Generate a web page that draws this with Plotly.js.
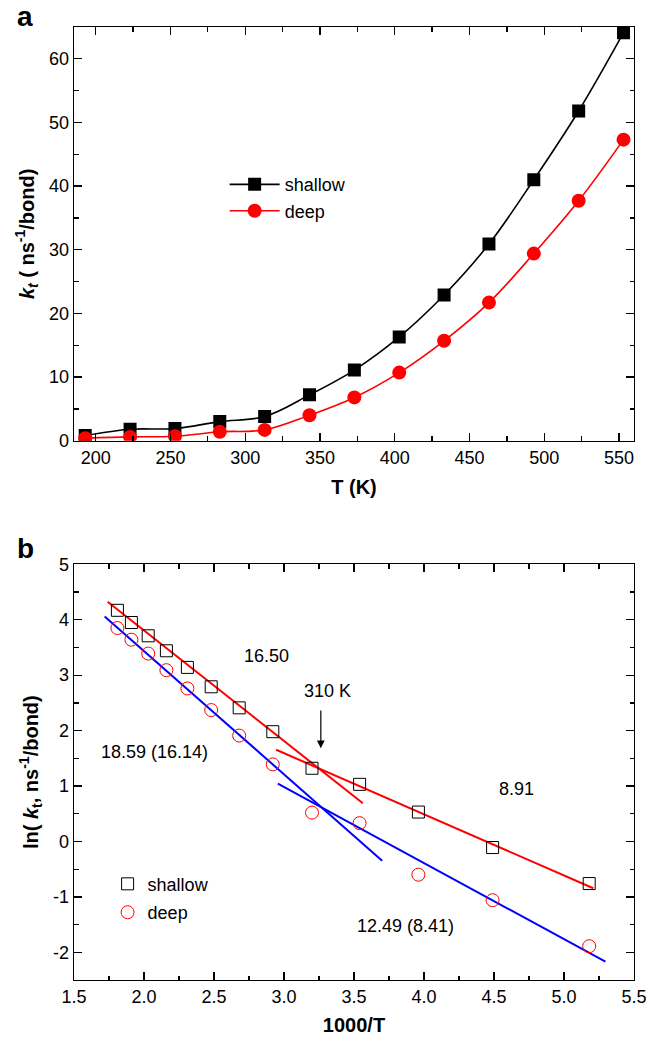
<!DOCTYPE html>
<html>
<head>
<meta charset="utf-8">
<script src="https://cdn.plot.ly/plotly-3.0.1.min.js"></script>
<style>html,body{margin:0;padding:0;background:#fff;}#chart{width:658px;height:1037px;}</style>
</head>
<body>
<div id="chart"></div>
<script>
// Panel a: rate constant vs temperature
const tempK = [193, 223, 253, 283, 313, 343, 373, 403, 433, 463, 493, 523, 553];
const ktShallow = [0.8, 1.8, 1.9, 3.0, 3.8, 7.2, 11.1, 16.3, 22.9, 30.9, 41.0, 51.8, 64.1];
const ktDeep = [0.4, 0.6, 0.7, 1.4, 1.7, 4.0, 6.8, 10.7, 15.7, 21.7, 29.4, 37.7, 47.3];

// Panel b: Arrhenius plot
const invT = [1.81, 1.91, 2.03, 2.16, 2.31, 2.48, 2.68, 2.92, 3.20, 3.54, 3.96, 4.49, 5.18];
const lnShallow = [4.17, 3.95, 3.71, 3.44, 3.14, 2.79, 2.41, 1.98, 1.32, 1.03, 0.53, -0.11, -0.76];
const lnDeep = [3.85, 3.64, 3.39, 3.09, 2.76, 2.37, 1.91, 1.39, 0.52, 0.33, -0.60, -1.06, -1.89];

// Fit lines (endpoints)
const fitShallowHiX = [1.740, 3.563], fitShallowHiY = [4.326, 0.690];
const fitShallowLoX = [2.944, 5.209], fitShallowLoY = [1.654, -0.844];
const fitDeepHiX = [1.719, 3.701], fitDeepHiY = [4.060, -0.349];
const fitDeepLoX = [2.956, 5.296], fitDeepLoY = [1.042, -2.168];

// Tick labels for panel b y axis (hyphen minus as in the original)
const lnTickVals = [-2, -1, 0, 1, 2, 3, 4, 5];
const lnTickText = ['-2', '-1', '0', '1', '2', '3', '4', '5'];

// Text labels on panel b
const labelText = ["16.50", "310 K", "18.59 (16.14)", "8.91", "12.49 (8.41)"];
const labelX = [2.878, 3.308, 2.077, 4.659, 3.869];
const labelY = [3.349, 2.718, 1.605, 0.949, -1.524];
const arrowX = 3.263, arrowTailY = 2.390, arrowHeadY = 1.679;

const FONT = 'Liberation Sans, Arial, Helvetica, sans-serif';
const RED = '#ff0000', BLUE = '#0000ff';

const traces = [
  {x: tempK, y: ktShallow, name: 'shallow', mode: 'lines+markers', xaxis: 'x', yaxis: 'y',
   line: {color: '#000', width: 1.6, shape: 'spline', smoothing: 1},
   marker: {symbol: 'square', size: 13, color: '#000'}, legend: 'legend'},
  {x: tempK, y: ktDeep, name: 'deep', mode: 'lines+markers', xaxis: 'x', yaxis: 'y',
   line: {color: RED, width: 1.6, shape: 'spline', smoothing: 1},
   marker: {symbol: 'circle', size: 14, color: RED}, legend: 'legend'},

  {x: fitShallowHiX, y: fitShallowHiY, mode: 'lines', xaxis: 'x2', yaxis: 'y2', showlegend: false,
   line: {color: RED, width: 2}},
  {x: fitShallowLoX, y: fitShallowLoY, mode: 'lines', xaxis: 'x2', yaxis: 'y2', showlegend: false,
   line: {color: RED, width: 2}},
  {x: fitDeepHiX, y: fitDeepHiY, mode: 'lines', xaxis: 'x2', yaxis: 'y2', showlegend: false,
   line: {color: BLUE, width: 2}},
  {x: fitDeepLoX, y: fitDeepLoY, mode: 'lines', xaxis: 'x2', yaxis: 'y2', showlegend: false,
   line: {color: BLUE, width: 2}},

  {x: invT, y: lnShallow, name: 'shallow', mode: 'markers', xaxis: 'x2', yaxis: 'y2', legend: 'legend2',
   legendgroup: 'g1',
   marker: {symbol: 'square-open', size: 12, color: '#000', line: {width: 1, color: '#000'}}},
  {x: invT, y: lnDeep, name: 'deep', mode: 'markers', xaxis: 'x2', yaxis: 'y2', legend: 'legend2',
   legendgroup: 'g2',
   marker: {symbol: 'circle-open', size: 13, color: RED, line: {width: 1, color: RED}}}
];

function axisBase(extra) {
  return Object.assign({
    showline: true, linecolor: '#000', linewidth: 1.3, mirror: 'ticks',
    ticks: 'inside', ticklen: 8, tickwidth: 1.3, tickcolor: '#000',
    showgrid: false, zeroline: false,
    tickfont: {family: FONT, size: 18, color: '#000'}
  }, extra);
}

const annotations = labelText.map((t, i) => ({
  text: t, x: labelX[i], y: labelY[i], xref: 'x2', yref: 'y2', showarrow: false,
  xanchor: 'center', yanchor: 'middle', font: {family: FONT, size: 18, color: '#000'}
}));
annotations.push({
  x: arrowX, y: arrowHeadY, ax: arrowX, ay: arrowTailY, xref: 'x2', yref: 'y2',
  axref: 'x2', ayref: 'y2', text: '', showarrow: true, arrowhead: 2, arrowsize: 1.3,
  arrowwidth: 1.2, arrowcolor: '#000', standoff: 0
});
annotations.push({text: '<b>a</b>', xref: 'paper', yref: 'paper', x: -0.106, y: 1.0115,
  xanchor: 'left', yanchor: 'middle', showarrow: false, font: {family: FONT, size: 28, color: '#000'}});
annotations.push({text: '<b>b</b>', xref: 'paper', yref: 'paper', x: -0.106, y: 0.4533,
  xanchor: 'left', yanchor: 'middle', showarrow: false, font: {family: FONT, size: 28, color: '#000'}});

const layout = {
  width: 658, height: 1037,
  margin: {l: 74.3, r: 24, t: 27, b: 57},
  paper_bgcolor: '#fff', plot_bgcolor: '#fff',
  font: {family: FONT, color: '#000'},
  xaxis: axisBase({domain: [0, 1], anchor: 'y', range: [185.5, 560], dtick: 50, tick0: 200,
    minor: {ticks: 'inside', ticklen: 4.5, dtick: 25, tick0: 200, tickcolor: '#000', tickwidth: 1.3},
    title: {text: '<b>T (K)</b>', font: {family: FONT, size: 20, color: '#000'}, standoff: 13}}),
  yaxis: axisBase({domain: [0.5659, 1], anchor: 'x', range: [0, 65], dtick: 10, tick0: 0,
    minor: {ticks: 'inside', ticklen: 4.5, dtick: 5, tick0: 0, tickcolor: '#000', tickwidth: 1.3},
    title: {text: '<b><i>k<sub>t</sub></i> ( ns<sup>-1</sup>/bond)</b>', font: {family: FONT, size: 20, color: '#000'}, standoff: 9}}),
  xaxis2: axisBase({domain: [0, 1], anchor: 'y2', range: [1.5, 5.5], dtick: 0.5, tick0: 1.5, tickformat: '.1f',
    minor: {ticks: 'inside', ticklen: 4.5, dtick: 0.25, tick0: 1.5, tickcolor: '#000', tickwidth: 1.3},
    title: {text: '<b>1000/T</b>', font: {family: FONT, size: 20, color: '#000'}, standoff: 12}}),
  yaxis2: axisBase({domain: [0, 0.4362], anchor: 'x2', range: [-2.5, 5],
    tickmode: 'array', tickvals: lnTickVals, ticktext: lnTickText,
    minor: {ticks: 'inside', ticklen: 4.5, dtick: 0.5, tick0: 0, tickcolor: '#000', tickwidth: 1.3},
    title: {text: '<b>ln( <i>k</i><sub>t</sub>, ns<sup>-1</sup>/bond)</b>', font: {family: FONT, size: 20, color: '#000'}, standoff: 9}}),
  legend: {x: 0.269, y: 0.854, xref: 'paper', yref: 'paper', xanchor: 'left', yanchor: 'top',
    bgcolor: 'rgba(0,0,0,0)', borderwidth: 0, itemwidth: 50,
    font: {family: FONT, size: 18, color: '#000'}},
  legend2: {x: 0.06, y: 0.12, xref: 'paper', yref: 'paper', xanchor: 'left', yanchor: 'top',
    bgcolor: 'rgba(0,0,0,0)', borderwidth: 0, traceorder: 'grouped', tracegroupgap: 2,
    font: {family: FONT, size: 18, color: '#000'}},
  annotations: annotations,
  showlegend: true
};

Plotly.newPlot('chart', traces, layout, {staticPlot: true, displayModeBar: false});
</script>
</body>
</html>
